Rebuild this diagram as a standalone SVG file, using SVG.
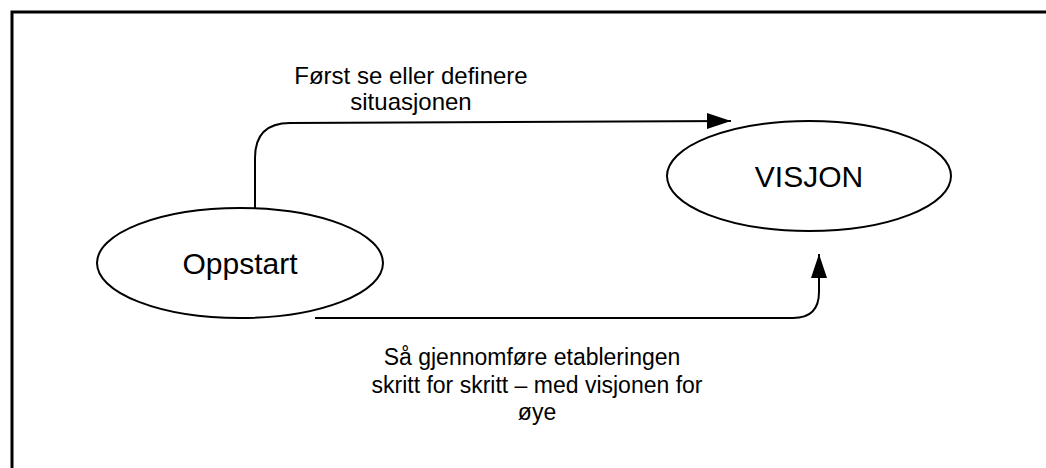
<svg xmlns="http://www.w3.org/2000/svg" width="1046" height="468" viewBox="0 0 1046 468">
<style>
.frame{stroke:#000;stroke-width:3;fill:none}
.node{fill:#fff;stroke:#000;stroke-width:2}
.conn{fill:none;stroke:#000;stroke-width:2}
.lbl{font-family:"Liberation Sans",Arial,sans-serif;fill:#000;text-anchor:middle}
.big{font-size:30px}
.top{font-size:24px}
.small{font-size:23px}
</style>
<defs>
<marker id="arr" markerWidth="26" markerHeight="18" refX="24" refY="8" orient="auto" markerUnits="userSpaceOnUse">
<path d="M0,0 L24,8 L0,16 Z" fill="#000"/>
</marker>
</defs>
<rect width="1046" height="468" fill="#fff"/>
<g id="frame">
<path class="frame" d="M12,468 L12,12 L1046,12"/>
</g>
<g id="connectors">
<path class="conn" d="M255,208 L255,158 Q255,123 290,123 L731,121" marker-end="url(#arr)"/>
<path class="conn" d="M315,318 L793,318 Q819,318 819,292 L819,254" marker-end="url(#arr)"/>
</g>
<g id="node-oppstart">
<ellipse class="node" cx="240" cy="263" rx="143" ry="55"/>
<text class="lbl big" x="240" y="274">Oppstart</text>
</g>
<g id="node-visjon">
<ellipse class="node" cx="809" cy="176" rx="142" ry="55"/>
<text class="lbl big" x="809" y="187">VISJON</text>
</g>
<g id="label-top">
<text class="lbl top" x="411" y="84">Først se eller definere</text>
<text class="lbl top" x="411" y="110">situasjonen</text>
</g>
<g id="label-bottom">
<text class="lbl small" x="532" y="365">Så gjennomføre etableringen</text>
<text class="lbl small" x="537" y="393">skritt for skritt – med visjonen for</text>
<text class="lbl small" x="537" y="420">øye</text>
</g>
</svg>
